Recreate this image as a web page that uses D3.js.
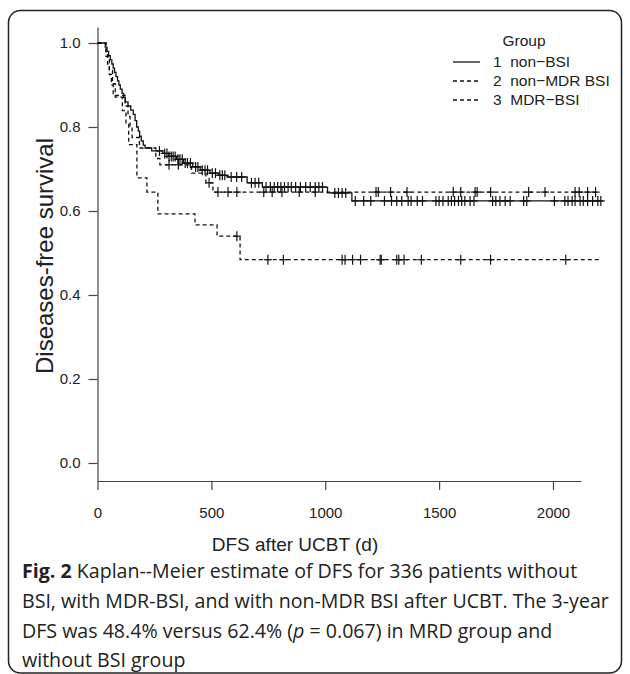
<!DOCTYPE html>
<html lang="en">
<head>
<meta charset="utf-8">
<title>DFS Kaplan-Meier</title>
<script src="https://cdn.jsdelivr.net/npm/d3@7/dist/d3.min.js"></script>
<style>
  body { margin: 0; background: #fff; }
  .tick text { font-family: "Liberation Sans", Arial, sans-serif; font-size: 15px; fill: #222; }
  .axis path, .axis line { stroke: #444; stroke-width: 1.2; }
  .lab { font-family: "Liberation Sans", Arial, sans-serif; fill: #222; }
  .legend text { font-family: "Liberation Sans", Arial, sans-serif; font-size: 15.5px; fill: #222; white-space: pre; }
  .caption { font-family: "Open Sans", sans-serif; font-size: 19.6px; fill: #222; }
  .km { fill: none; stroke: #111; stroke-width: 1.3; }
  .cens { stroke: #111; stroke-width: 1.2; }
</style>
</head>
<body>
<svg id="chart" width="630" height="674"></svg>
<script>
// legend / groups
var groupNames = ["1  non\u2212BSI", "2  non\u2212MDR BSI", "3  MDR\u2212BSI"];
var groupDash = [null, "4,3", "4,3"];

// group 1: non-BSI  (event day, survival after it)
var g1Time = [34, 42, 49, 56, 63, 69, 75, 81, 88, 94, 100, 108, 115, 122, 134, 146, 157, 165, 172, 179, 185, 192, 201, 209, 238, 287, 313, 347, 378, 418, 451, 493, 531, 569, 657, 724, 1010, 1117];
var g1Surv = [0.99, 0.98, 0.97, 0.96, 0.95, 0.94, 0.93, 0.92, 0.91, 0.90, 0.89, 0.88, 0.87, 0.86, 0.85, 0.84, 0.83, 0.815, 0.80, 0.79, 0.778, 0.767, 0.757, 0.75, 0.743, 0.737, 0.73, 0.723, 0.714, 0.705, 0.697, 0.69, 0.685, 0.681, 0.667, 0.657, 0.643, 0.624];
var g1Censor = [272, 295, 305, 314, 324, 332, 341, 353, 362, 372, 385, 395, 408, 431, 441, 460, 472, 483, 504, 518, 537, 548, 559, 587, 611,
  633, 676, 692, 708, 740, 759, 776, 791, 805, 821, 837, 851, 870, 891, 914, 934, 956, 972, 988, 1042, 1058, 1074, 1090,
  1132, 1169, 1200, 1260, 1291, 1314, 1336, 1364, 1377, 1404, 1427, 1486, 1500, 1517, 1540, 1554, 1568, 1585, 1599, 1613, 1636, 1653,
  1735, 1749, 1767, 1790, 1812, 1871, 1885, 2006, 2052, 2066, 2084, 2097, 2119, 2133, 2152, 2174, 2197, 2210];
var g1End = 2220;

// group 2: non-MDR BSI
var g2Time = [38, 44, 52, 61, 69, 121, 134, 143, 152, 184, 256, 274, 413, 476, 507];
var g2Surv = [0.975, 0.95, 0.925, 0.90, 0.875, 0.85, 0.825, 0.80, 0.775, 0.75, 0.725, 0.71, 0.69, 0.667, 0.645];
var g2Censor = [314, 355, 490, 529, 573, 612, 730, 767, 810, 886, 956, 1223, 1233, 1287, 1359, 1562, 1595, 1658, 1667, 1726, 1893, 1965, 2097, 2115, 2152, 2187];
var g2End = 2201;

// group 3: MDR-BSI
var g3Time = [37, 52, 66, 78, 109, 125, 137, 173, 217, 265, 428, 525, 626];
var g3Surv = [0.968, 0.935, 0.903, 0.871, 0.839, 0.806, 0.758, 0.679, 0.645, 0.593, 0.567, 0.540, 0.484];
var g3Censor = [612, 748, 816, 1074, 1087, 1120, 1155, 1241, 1246, 1314, 1323, 1346, 1422, 1595, 1726, 2056];
var g3End = 2201;

var xTicks = [0, 500, 1000, 1500, 2000];
var yTicks = [0, 0.2, 0.4, 0.6, 0.8, 1.0];

var captionLines = [
  [["Fig. 2", true], [" Kaplan--Meier estimate of DFS for 336 patients without", false]],
  [["BSI, with MDR-BSI, and with non-MDR BSI after UCBT. The 3-year", false]],
  [["DFS was 48.4% versus 62.4% (", false], ["p", "i"], [" = 0.067) in MRD group and", false]],
  [["without BSI group", false]]
];

var svg = d3.select("#chart");

// frame round the figure
svg.append("rect")
  .attr("x", 8.5).attr("y", 10.5)
  .attr("width", 613).attr("height", 662.5)
  .attr("rx", 12).attr("ry", 12)
  .attr("fill", "none").attr("stroke", "#222").attr("stroke-width", 1.5);

var x = d3.scaleLinear().domain([0, 2123]).range([97.5, 581]);
var y = d3.scaleLinear().domain([-0.0429, 1.0381]).range([481, 27]);

svg.append("g")
  .attr("class", "axis")
  .attr("transform", "translate(0,481)")
  .call(d3.axisBottom(x).tickValues(xTicks).tickSize(9).tickSizeOuter(0).tickPadding(17).tickFormat(d3.format("d")));

svg.append("g")
  .attr("class", "axis")
  .attr("transform", "translate(97.5,0)")
  .call(d3.axisLeft(y).tickValues(yTicks).tickSize(9).tickSizeOuter(0).tickPadding(8).tickFormat(d3.format(".1f")));

// axis titles
svg.append("text").attr("class", "lab")
  .attr("x", 295).attr("y", 551)
  .attr("text-anchor", "middle").style("font-size", "19px")
  .text("DFS after UCBT (d)");

svg.append("text").attr("class", "lab")
  .attr("transform", "translate(53,256) rotate(-90)")
  .attr("text-anchor", "middle").style("font-size", "24px")
  .text("Diseases-free survival");

// curves
var groups = [
  {time: g1Time, surv: g1Surv, cens: g1Censor, end: g1End},
  {time: g2Time, surv: g2Surv, cens: g2Censor, end: g2End},
  {time: g3Time, surv: g3Surv, cens: g3Censor, end: g3End}
];

var stepLine = d3.line()
  .x(function(d) { return x(d[0]); })
  .y(function(d) { return y(d[1]); })
  .curve(d3.curveStepAfter);

function survAt(g, t) {
  var s = 1;
  for (var i = 0; i < g.time.length; i++) {
    if (g.time[i] <= t) s = g.surv[i];
  }
  return s;
}

groups.forEach(function(g, gi) {
  var pts = [[0, 1]];
  for (var i = 0; i < g.time.length; i++) pts.push([g.time[i], g.surv[i]]);
  pts.push([g.end, g.surv[g.surv.length - 1]]);

  svg.append("path")
    .datum(pts)
    .attr("class", "km")
    .attr("stroke-dasharray", groupDash[gi])
    .attr("d", stepLine);

  // censoring marks: small crosses on the curve
  var cg = svg.append("g");
  cg.selectAll(".v").data(g.cens).enter().append("line")
    .attr("class", "cens")
    .attr("x1", function(d) { return x(d); }).attr("x2", function(d) { return x(d); })
    .attr("y1", function(d) { return y(survAt(g, d)) - 5; })
    .attr("y2", function(d) { return y(survAt(g, d)) + 5; });
  cg.selectAll(".h").data(g.cens).enter().append("line")
    .attr("class", "cens")
    .attr("x1", function(d) { return x(d) - 4; }).attr("x2", function(d) { return x(d) + 4; })
    .attr("y1", function(d) { return y(survAt(g, d)); })
    .attr("y2", function(d) { return y(survAt(g, d)); });
});

// legend
var leg = svg.append("g").attr("class", "legend");
leg.append("text").attr("x", 524).attr("y", 46).attr("text-anchor", "middle").text("Group");
groupNames.forEach(function(n, i) {
  var yy = 62 + i * 19;
  leg.append("line")
    .attr("x1", 453).attr("x2", 480).attr("y1", yy).attr("y2", yy)
    .attr("stroke", "#111").attr("stroke-width", 1.3)
    .attr("stroke-dasharray", groupDash[i]);
  leg.append("text").attr("x", 493).attr("y", yy + 5).text(n);
});

// caption
var capY = [578, 608, 638, 667];
captionLines.forEach(function(line, i) {
  var t = svg.append("text").attr("class", "caption").attr("x", 22).attr("y", capY[i]);
  line.forEach(function(part) {
    var ts = t.append("tspan").text(part[0]);
    if (part[1] === true) ts.style("font-weight", "bold");
    if (part[1] === "i") ts.style("font-style", "italic");
  });
});
</script>
</body>
</html>
